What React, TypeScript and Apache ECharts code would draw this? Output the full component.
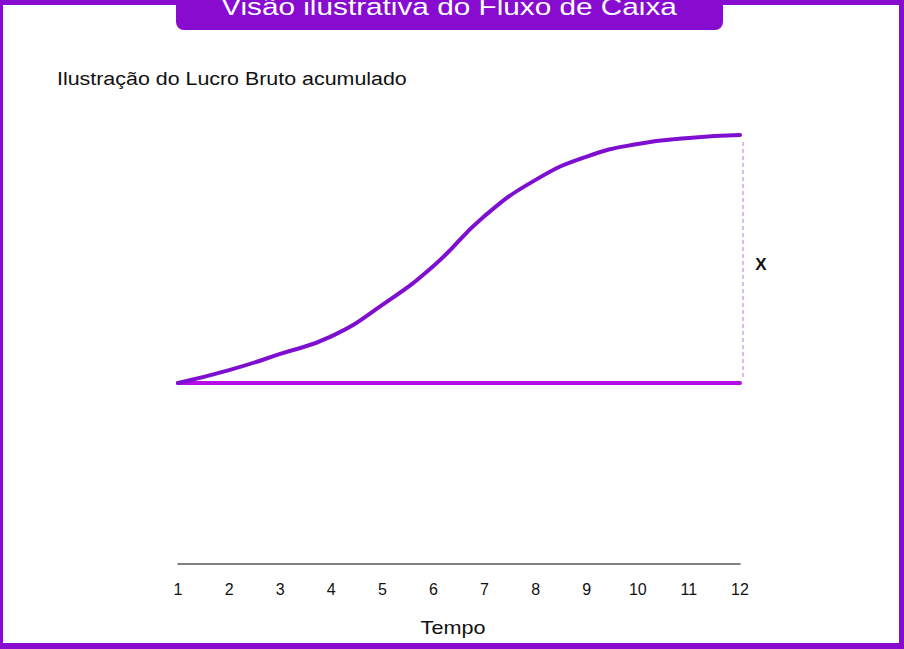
import React, { useEffect, useRef } from "react";
import * as echarts from "echarts";

// Tempo (meses) e lucro bruto acumulado (índice, 100 = valor final)
const periods = [1, 2, 3, 4, 5, 6, 7, 8, 9, 10, 11, 12];
const lucroAcumulado = [0, 5.2, 11.7, 18.8, 31.5, 47.2, 67.3, 81.9, 91.3, 96.4, 98.8, 100];
const baseLevel = [0, 0, 0, 0, 0, 0, 0, 0, 0, 0, 0, 0];

const titleText = "Visão ilustrativa do Fluxo de Caixa";
const subtitleText = "Ilustração do Lucro Bruto acumulado";
const axisNameText = "Tempo";
const gapLabel = "X";

const PURPLE = "#870ccf";
const CURVE = "#7f0fd0";
const BASE = "#b50de8";
const FONT = "'Liberation Sans', Arial, Helvetica, sans-serif";

export default function App() {
  const ref = useRef<HTMLDivElement>(null);

  useEffect(() => {
    if (!ref.current) return;
    const chart = echarts.init(ref.current, null, { renderer: "svg" });

    const W = 904;
    const H = 649;

    chart.setOption({
      animation: false,
      backgroundColor: "#ffffff",
      grid: { left: 178, right: 164, top: 135, bottom: 85, containLabel: false },
      xAxis: {
        type: "value",
        min: 1,
        max: 12,
        interval: 1,
        axisLine: { show: true, onZero: false, lineStyle: { color: "#555555", width: 1.5 } },
        axisTick: { show: false },
        splitLine: { show: false },
        axisLabel: { color: "#111111", fontSize: 16, fontFamily: FONT, margin: 17 },
      },
      yAxis: {
        type: "value",
        min: -73,
        max: 100,
        show: false,
        splitLine: { show: false },
      },
      series: [
        {
          name: "Base",
          type: "line",
          data: periods.map((p, i) => [p, baseLevel[i]]),
          showSymbol: false,
          symbol: "none",
          lineStyle: { color: BASE, width: 4, cap: "round" },
          z: 2,
        },
        {
          name: "Lucro Bruto acumulado",
          type: "line",
          data: periods.map((p, i) => [p, lucroAcumulado[i]]),
          smooth: 0.5,
          showSymbol: false,
          symbol: "none",
          lineStyle: { color: CURVE, width: 4, cap: "round" },
          z: 3,
        },
      ],
    });

    // vertical guide between the final value and the base line
    const last = periods.length - 1;
    const top = chart.convertToPixel({ gridIndex: 0 }, [periods[last], lucroAcumulado[last]]) as number[];
    const bottom = chart.convertToPixel({ gridIndex: 0 }, [periods[last], baseLevel[last]]) as number[];
    const gx = top[0] + 3;

    chart.setOption({
      graphic: [
        // frame
        { type: "rect", shape: { x: 0, y: 0, width: W, height: 5 }, style: { fill: PURPLE }, z: 10 },
        { type: "rect", shape: { x: 0, y: 0, width: 3, height: H }, style: { fill: PURPLE }, z: 10 },
        { type: "rect", shape: { x: W - 5, y: 0, width: 5, height: H }, style: { fill: PURPLE }, z: 10 },
        { type: "rect", shape: { x: 0, y: H - 6, width: W, height: 6 }, style: { fill: PURPLE }, z: 10 },
        // title tab
        {
          type: "rect",
          shape: { x: 176, y: -12, width: 547, height: 42, r: 8 },
          style: { fill: PURPLE },
          z: 11,
        },
        {
          type: "text",
          x: 449,
          y: 7,
          scaleX: 1.24,
          style: {
            text: titleText,
            x: 0,
            y: 0,
            align: "center",
            verticalAlign: "middle",
            fill: "#ffffff",
            fontSize: 24,
            fontFamily: FONT,
          },
          z: 12,
        },
        // subtitle
        {
          type: "text",
          x: 57,
          y: 79,
          scaleX: 1.19,
          style: {
            text: subtitleText,
            x: 0,
            y: 0,
            align: "left",
            verticalAlign: "middle",
            fill: "#111111",
            fontSize: 18,
            fontFamily: FONT,
          },
          z: 12,
        },
        // axis name
        {
          type: "text",
          x: 453,
          y: 628,
          scaleX: 1.2,
          style: {
            text: axisNameText,
            x: 0,
            y: 0,
            align: "center",
            verticalAlign: "middle",
            fill: "#111111",
            fontSize: 18,
            fontFamily: FONT,
          },
          z: 12,
        },
        // dashed gap marker
        {
          type: "line",
          shape: { x1: gx, y1: top[1] + 7, x2: gx, y2: bottom[1] - 6 },
          style: { stroke: "#d8b4f6", lineWidth: 1.8, lineDash: [4, 3] },
          z: 5,
        },
        {
          type: "text",
          x: 761,
          y: 264,
          style: {
            text: gapLabel,
            x: 0,
            y: 0,
            align: "center",
            verticalAlign: "middle",
            fill: "#111111",
            fontSize: 17,
            fontWeight: "bold",
            fontFamily: FONT,
          },
          z: 12,
        },
      ],
    });

    return () => chart.dispose();
  }, []);

  return (
    <div
      ref={ref}
      style={{ position: "fixed", left: 0, top: 0, width: 904, height: 649, background: "#ffffff" }}
    />
  );
}
